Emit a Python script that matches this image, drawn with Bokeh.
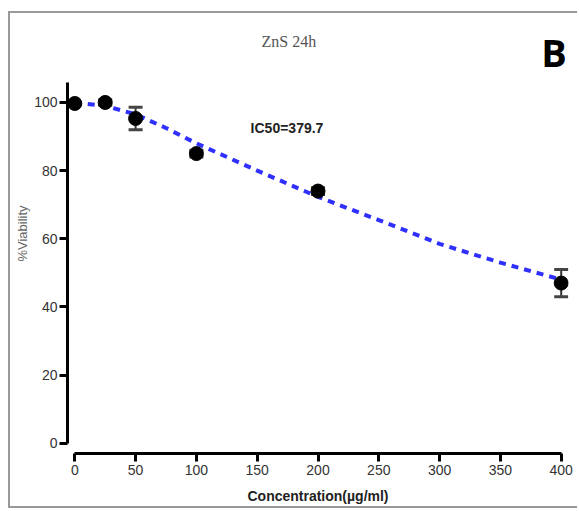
from bokeh.plotting import figure
from bokeh.models import Range1d, ColumnDataSource, Whisker, TeeHead, Label, FixedTicker
from bokeh.embed import file_html
from bokeh.resources import INLINE

# ---- data ----
conc = [0, 25, 50, 100, 200, 400]
viability = [99.7, 100.0, 95.3, 85.0, 74.0, 47.0]
err = [0.0, 0.8, 3.3, 1.0, 1.0, 4.0]

fit_x = [0, 25, 50, 75, 100, 150, 200, 250, 300, 350, 400]
fit_y = [100.0, 99.0, 96.5, 92.5, 88.0, 80.0, 72.3, 65.5, 58.5, 53.0, 48.0]

x_ticks = [0, 50, 100, 150, 200, 250, 300, 350, 400]
y_ticks = [0, 20, 40, 60, 80, 100]

title_text = "ZnS 24h"
panel_text = "B"
ic50_text = "IC50=379.7"

# ---- figure ----
p = figure(frame_width=501, frame_height=440,
           x_range=Range1d(-6, 406), y_range=Range1d(-3, 126.1),
           min_border_left=57, min_border_right=9, min_border_top=0, min_border_bottom=53,
           output_backend="svg", toolbar_location=None,
           background_fill_color="white", border_fill_color="white")
p.styles = {"border-left": "2px solid #999999", "border-top": "2px solid #999999",
            "border-bottom": "2px solid #999999", "margin-left": "8px", "margin-top": "11px"}
p.outline_line_color = None
p.xgrid.visible = False
p.ygrid.visible = False

# fitted curve
p.line(fit_x, fit_y, line_color="#2f2fff", line_width=4, line_dash="7 6")

# error bars
lower = [v - e for v, e in zip(viability, err)]
upper = [v + e for v, e in zip(viability, err)]
src = ColumnDataSource(dict(x=conc, y=viability, lower=lower, upper=upper))
w = Whisker(base="x", lower="lower", upper="upper", source=src,
            line_color="#333333", line_width=2,
            upper_head=TeeHead(size=14, line_width=3, line_color="#444444"),
            lower_head=TeeHead(size=14, line_width=3, line_color="#444444"))
p.add_layout(w)

# points
p.scatter("x", "y", source=src, size=14, color="black")

# axes
for ax in (p.xaxis[0], p.yaxis[0]):
    ax.axis_line_width = 3
    ax.axis_line_color = "black"
    ax.major_tick_line_width = 3
    ax.major_tick_line_color = "black"
    ax.major_tick_out = 8
    ax.major_tick_in = 0
    ax.minor_tick_out = 0
    ax.minor_tick_in = 0
    ax.major_label_text_font = "Liberation Sans"
    ax.major_label_text_font_size = "14px"
    ax.major_label_text_color = "#333333"

p.xaxis[0].ticker = FixedTicker(ticks=x_ticks)
p.xaxis[0].bounds = (0, 400)
p.xaxis[0].major_label_standoff = 3
p.xaxis[0].axis_label = "Concentration(µg/ml)"
p.xaxis[0].axis_label_text_font = "Liberation Sans"
p.xaxis[0].axis_label_text_font_style = "bold"
p.xaxis[0].axis_label_text_font_size = "14px"
p.xaxis[0].axis_label_text_color = "#222222"
p.xaxis[0].axis_label_standoff = 10

p.yaxis[0].ticker = FixedTicker(ticks=y_ticks)
p.yaxis[0].bounds = (0, 106)
p.yaxis[0].major_label_standoff = 2
p.yaxis[0].axis_label = "%Viability"
p.yaxis[0].axis_label_text_font = "Liberation Sans"
p.yaxis[0].axis_label_text_font_style = "normal"
p.yaxis[0].axis_label_text_font_size = "13px"
p.yaxis[0].axis_label_text_color = "#666666"
p.yaxis[0].axis_label_standoff = 1

# texts
p.add_layout(Label(x=176, y=117.9, text=title_text,
                   text_font="Liberation Serif", text_font_size="16px", text_color="#555555",
                   text_align="center", text_baseline="middle"))
p.add_layout(Label(x=394, y=114.7, text=panel_text,
                   text_font="Open Sans", text_font_size="38px", text_font_style="bold",
                   text_color="black", text_align="center", text_baseline="middle"))
p.add_layout(Label(x=174.5, y=92.5, text=ic50_text,
                   text_font="Liberation Sans", text_font_size="14px", text_font_style="bold",
                   text_color="#222222", text_align="center", text_baseline="middle"))

open("out.html", "w").write(file_html(p, INLINE))
